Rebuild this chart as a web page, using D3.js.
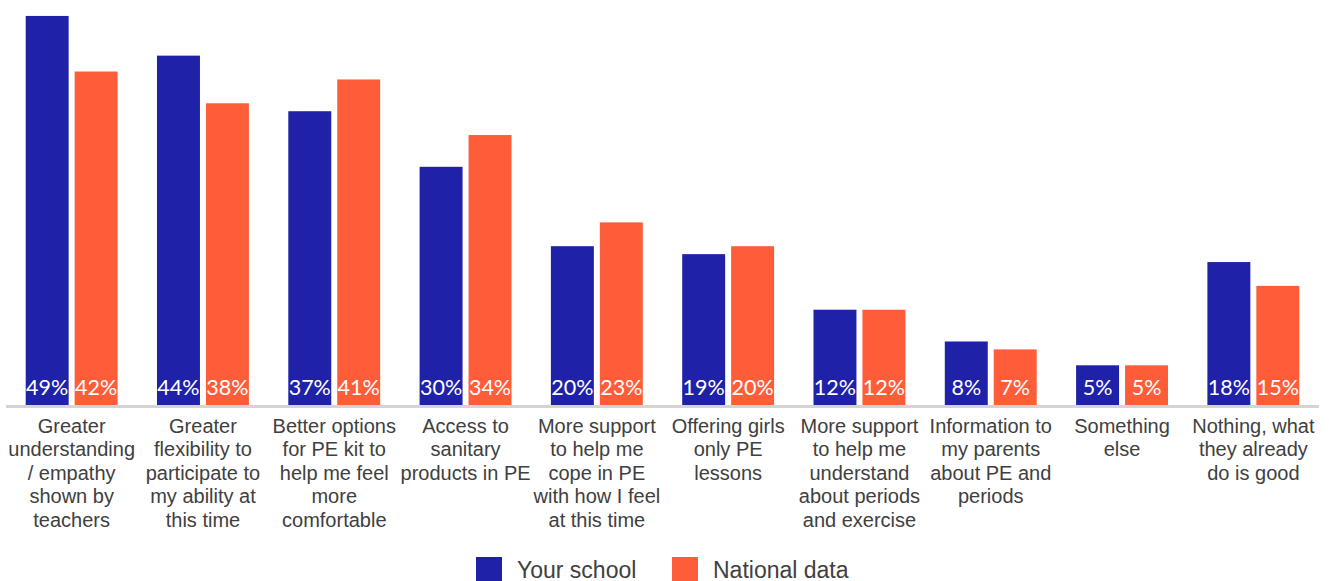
<!DOCTYPE html>
<html>
<head>
<meta charset="utf-8">
<script src="https://cdn.jsdelivr.net/npm/d3@7"></script>
<style>
  html, body { margin: 0; padding: 0; background: #ffffff; }
  svg { display: block; }
</style>
</head>
<body>
<svg id="chart" width="1329" height="581"></svg>
<script>
// Survey categories (line breaks mark where each label wraps)
const categories = [
  "Greater\nunderstanding\n/ empathy\nshown by\nteachers",
  "Greater\nflexibility to\nparticipate to\nmy ability at\nthis time",
  "Better options\nfor PE kit to\nhelp me feel\nmore\ncomfortable",
  "Access to\nsanitary\nproducts in PE",
  "More support\nto help me\ncope in PE\nwith how I feel\nat this time",
  "Offering girls\nonly PE\nlessons",
  "More support\nto help me\nunderstand\nabout periods\nand exercise",
  "Information to\nmy parents\nabout PE and\nperiods",
  "Something\nelse",
  "Nothing, what\nthey already\ndo is good"
];
const seriesNames = ["Your school", "National data"];
const yourSchool = [49, 44, 37, 30, 20, 19, 12, 8, 5, 18];
const nationalData = [42, 38, 41, 34, 23, 20, 12, 7, 5, 15];
const seriesColors = ["#1f22a9", "#ff5c39"];

const svg = d3.select("#chart");
const baseline = 405;

const x = d3.scaleBand()
  .domain(d3.range(categories.length))
  .range([6, 1319])
  .paddingInner(0.3)
  .paddingOuter(0.15);

const xSub = d3.scaleBand()
  .domain(d3.range(seriesNames.length))
  .range([0, x.bandwidth()])
  .paddingInner(0.1224);

const y = d3.scaleLinear().domain([0, 50]).range([baseline, 8]);

const series = [yourSchool, nationalData];

// category axis line
svg.append("line")
  .attr("x1", 6).attr("x2", 1319)
  .attr("y1", baseline + 1.5).attr("y2", baseline + 1.5)
  .attr("stroke", "#d4d4d4")
  .attr("stroke-width", 3);

const groups = svg.selectAll("g.cat")
  .data(categories)
  .join("g")
  .attr("class", "cat")
  .attr("transform", (d, i) => `translate(${x(i)},0)`);

groups.each(function(cat, i) {
  const g = d3.select(this);
  series.forEach((vals, s) => {
    const v = vals[i];
    g.append("rect")
      .attr("x", xSub(s))
      .attr("y", y(v))
      .attr("width", xSub.bandwidth())
      .attr("height", baseline - y(v))
      .attr("fill", seriesColors[s]);
    g.append("text")
      .attr("x", xSub(s) + xSub.bandwidth() / 2)
      .attr("y", baseline - 10)
      .attr("text-anchor", "middle")
      .attr("fill", "#ffffff")
      .attr("font-family", "Lato, 'Open Sans', sans-serif")
      .attr("font-size", 21.5)
      .text(v + "%");
  });

  // wrapped category label
  const label = g.append("text")
    .attr("text-anchor", "middle")
    .attr("fill", "#404040")
    .attr("font-family", "'Liberation Sans', Arial, sans-serif")
    .attr("font-size", 20);
  cat.split("\n").forEach((line, k) => {
    label.append("tspan")
      .attr("x", x.bandwidth() / 2)
      .attr("y", 432.5 + k * 23.5)
      .text(line);
  });
});

// legend
const legend = svg.append("g");
const legendX = [476, 672];
seriesNames.forEach((name, s) => {
  legend.append("rect")
    .attr("x", legendX[s]).attr("y", 557)
    .attr("width", 26).attr("height", 26)
    .attr("fill", seriesColors[s]);
  legend.append("text")
    .attr("x", legendX[s] + 41).attr("y", 577.5)
    .attr("fill", "#404040")
    .attr("font-family", "'Liberation Sans', Arial, sans-serif")
    .attr("font-size", 23)
    .text(name);
});
</script>
</body>
</html>
